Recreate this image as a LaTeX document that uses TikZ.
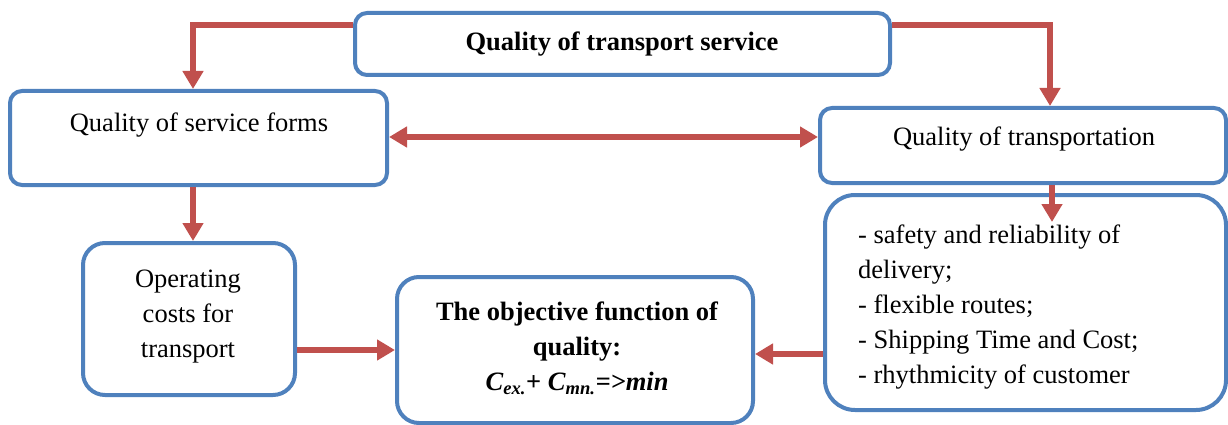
\documentclass[tikz,border=0pt]{standalone}
\usepackage{fontspec}
\setmainfont{Liberation Serif}
\usetikzlibrary{arrows.meta}
\definecolor{boxblue}{HTML}{4F81BD}
\definecolor{arrred}{HTML}{C0504D}
\begin{document}
\begin{tikzpicture}[x=1pt,y=1pt,
  box/.style={draw=boxblue,line width=4pt,rounded corners=#1,fill=white,inner sep=0pt},
  box/.default=12pt,
  txt/.style={inner sep=0pt,align=center,font=\fontsize{26.5pt}{35pt}\selectfont},
  arr/.style={draw=arrred,line width=6pt,-{Triangle[width=20pt,length=18pt]}},
  arrboth/.style={draw=arrred,line width=6pt,{Triangle[width=20pt,length=18pt]}-{Triangle[width=20pt,length=18pt]}}]
\useasboundingbox (0,0) rectangle (1228,-425);

% boxes
\node[box,minimum width=535pt,minimum height=62pt] (top) at (622.5,-44) {};
\node[box,minimum width=377pt,minimum height=94pt] (lft) at (198.5,-138) {};
\node[box,minimum width=406pt,minimum height=75pt] (rgt) at (1023,-145.5) {};
\node[box=30pt,minimum width=401pt,minimum height=215pt] (br) at (1025.5,-302.5) {};
\node[box=22pt,minimum width=212pt,minimum height=152pt] (op) at (189,-319) {};
\node[box=22pt,minimum width=356pt,minimum height=146pt] (obj) at (575,-350) {};

% texts
\node[txt,font=\fontsize{26.5pt}{35pt}\selectfont\bfseries] (ttop) at (622,-44) {Quality of transport service};
\node[txt] (tlft) at (199,-125) {Quality of service forms};
\node[txt] (trgt) at (1024,-139) {Quality of transportation};
\node[txt,align=left,anchor=west] (tbr) at (858,-307) {- safety and reliability of\\delivery;\\- flexible routes;\\- Shipping Time and Cost;\\- rhythmicity of customer};
\node[txt] (top2) at (188,-317) {Operating\\costs for\\transport};
\node[txt,font=\fontsize{26.5pt}{35pt}\selectfont\bfseries] (tobj) at (577,-348)
  {The objective function of\\quality:\\\textit{C}\textsubscript{\textit{ex.}}+ \textit{C}\textsubscript{\textit{mn.}}\textit{=>min}};

% connectors
\coordinate (tip5) at (1052,-222);
\draw[arr] ([yshift=19pt]top.west) -| ([xshift=-5.5pt]lft.north);
\draw[arr] ([yshift=19pt]top.east) -| ([xshift=27pt]rgt.north);
\draw[arrboth] (lft.east |- 0,-137) -- (rgt.west |- 0,-137);
\draw[arr] ([xshift=-5.5pt]lft.south) -- ([xshift=-5.5pt]lft.south |- op.north);
\draw[arr] ([xshift=29pt]rgt.south) -- (tip5);
\draw[arr] (op.east |- obj.west) -- (obj.west);
\draw[arr] (br.west |- 0,-354) -- (obj.east |- 0,-354);
\end{tikzpicture}
\end{document}
